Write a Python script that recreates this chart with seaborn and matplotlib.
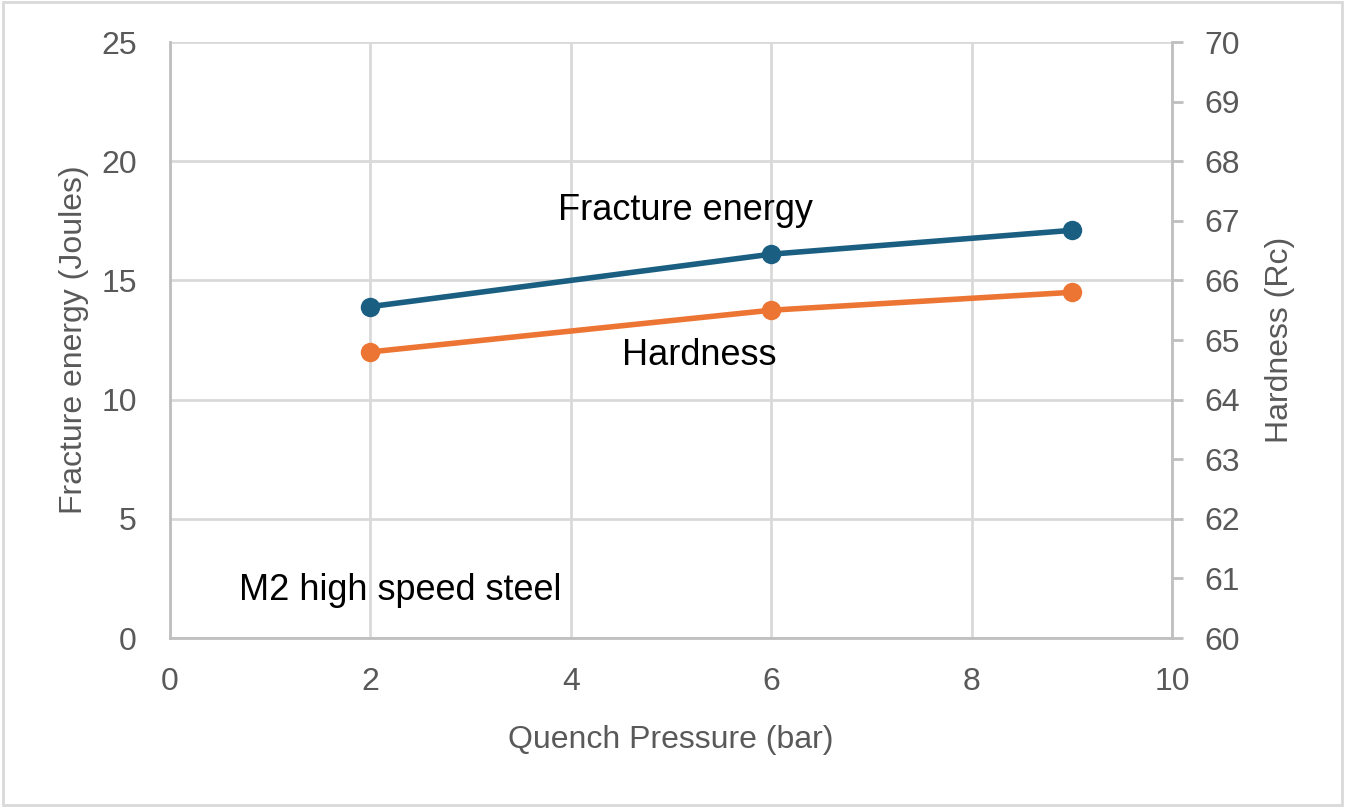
import pandas as pd
import seaborn as sns
import matplotlib.pyplot as plt

# quench pressure (bar)
pressure = [2, 6, 9]
# fracture energy (J), left axis
fracture_energy = [13.9, 16.1, 17.1]
# hardness (Rc), right axis
hardness = [64.8, 65.5, 65.8]

df = pd.DataFrame({"pressure": pressure, "fracture": fracture_energy, "hardness": hardness})

sns.set_style("white")
plt.rcParams['font.family'] = ['Liberation Sans', 'DejaVu Sans']

grey_txt = "#595959"
grid_c = "#d9d9d9"
spine_c = "#bfbfbf"
blue = "#1a5f82"
orange = "#ed7534"

fig = plt.figure(figsize=(13.45, 8.07), dpi=100)
ax = fig.add_axes([170 / 1345, 1 - 638 / 807, 1002 / 1345, 596 / 807])
ax2 = ax.twinx()

sns.lineplot(data=df, x="pressure", y="fracture", ax=ax, color=blue, linewidth=4,
             marker="o", markersize=14, markeredgewidth=0, zorder=3)
sns.lineplot(data=df, x="pressure", y="hardness", ax=ax2, color=orange, linewidth=4,
             marker="o", markersize=14, markeredgewidth=0, zorder=3)

ax.set_xlim(0, 10)
ax.set_ylim(0, 25)
ax.set_xticks(range(0, 11, 2))
ax.set_yticks(range(0, 26, 5))
ax2.set_ylim(60, 70)
ax2.set_yticks(range(60, 71, 1))

ax.grid(True, color=grid_c, linewidth=2)
ax.set_axisbelow(True)

for a in (ax, ax2):
    for s in a.spines.values():
        s.set_visible(False)
ax.spines["left"].set_visible(True)
ax.spines["bottom"].set_visible(True)
ax.spines["left"].set_color(spine_c)
ax.spines["bottom"].set_color(spine_c)
ax.spines["left"].set_linewidth(2)
ax.spines["bottom"].set_linewidth(2)
ax2.spines["right"].set_visible(True)
ax2.spines["right"].set_color(spine_c)
ax2.spines["right"].set_linewidth(2)

ax.tick_params(axis="both", length=0, labelsize=23, labelcolor=grey_txt)
ax.tick_params(axis="x", pad=21)
ax.tick_params(axis="y", pad=24)
ax2.tick_params(axis="y", length=8, width=2, color=spine_c, labelsize=23, labelcolor=grey_txt, pad=15)

ax.set_xlabel("Quench Pressure (bar)", fontsize=23, color=grey_txt, labelpad=20)
ax.set_ylabel("Fracture energy (Joules)", fontsize=23, color=grey_txt, labelpad=9)
ax2.set_ylabel("Hardness (Rc)", fontsize=23, color=grey_txt, labelpad=18)

ax.text(5.14, 17.95, "Fracture energy", fontsize=26, color="black", ha="center", va="center")
ax.text(5.28, 11.87, "Hardness", fontsize=26, color="black", ha="center", va="center")
ax.text(2.3, 2.0, "M2 high speed steel", fontsize=26, color="black", ha="center", va="center")

fig.patches.append(plt.Rectangle((0.002, 0.003), 0.996, 0.994, transform=fig.transFigure,
                                 fill=False, edgecolor=grid_c, linewidth=2))

fig.savefig("out.png", dpi=100)
